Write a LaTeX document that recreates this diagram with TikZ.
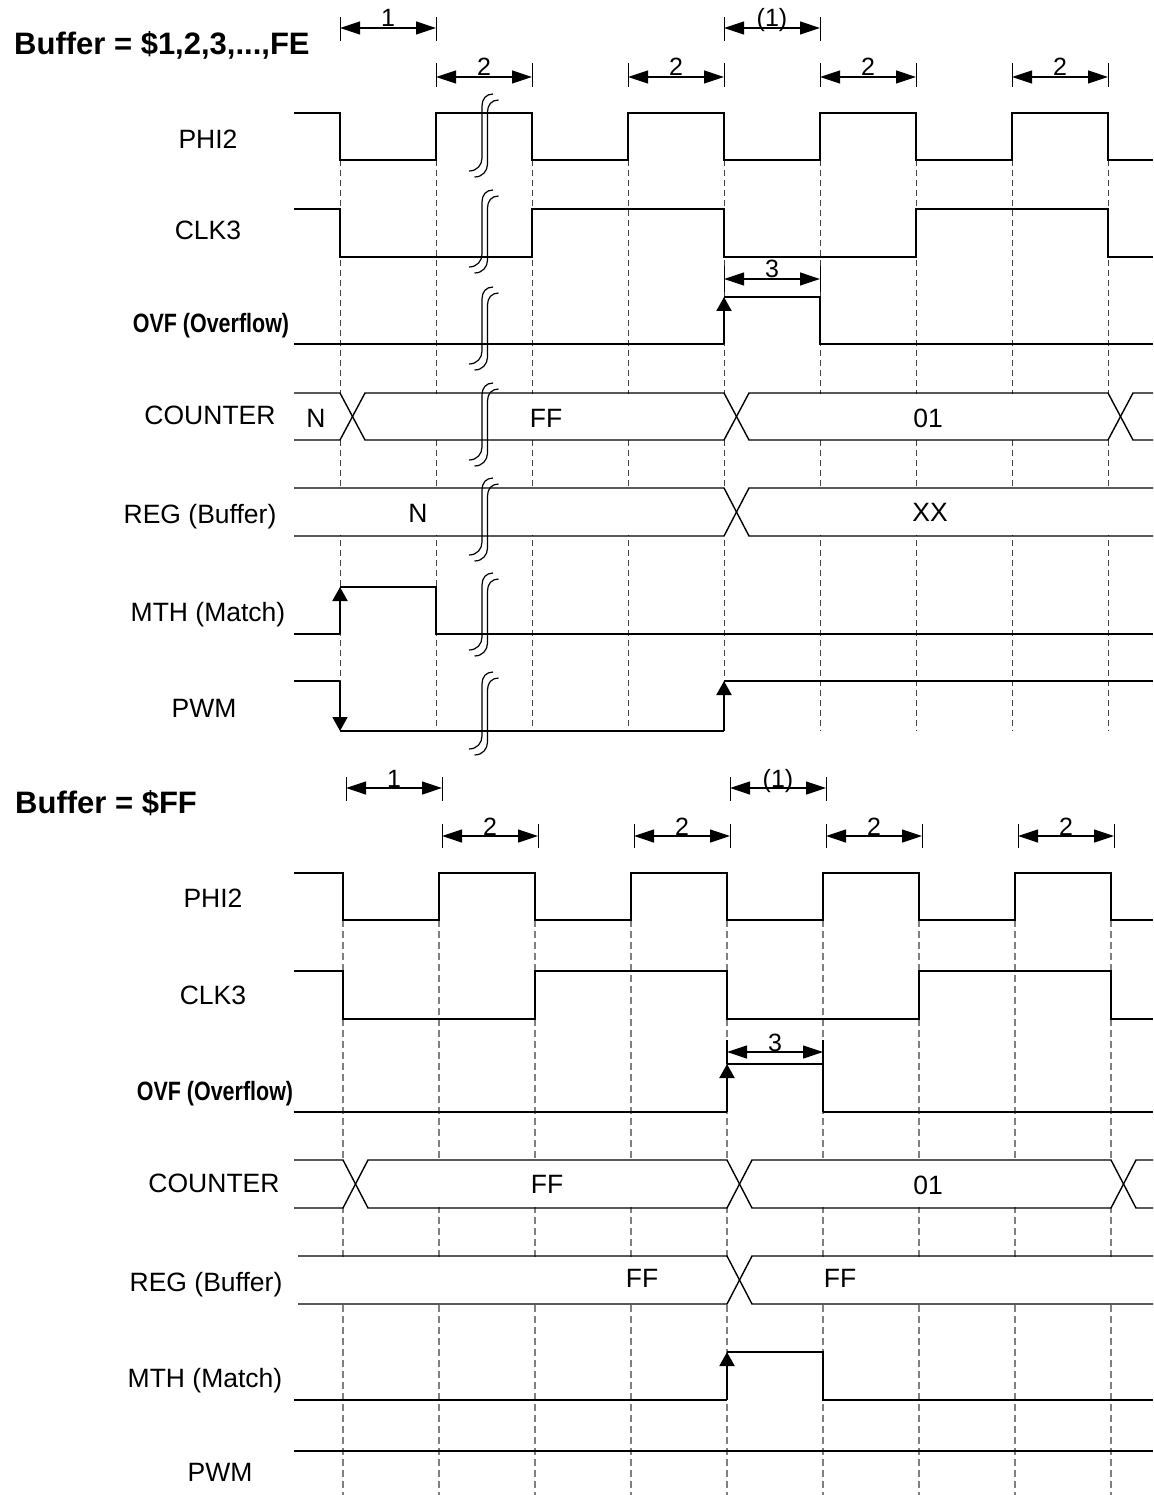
\documentclass[tikz,border=0pt]{standalone}
\usepackage{fontspec}
\setmainfont{Liberation Sans}
\newfontfamily\ovffont[FakeStretch=0.81]{Liberation Sans}
\usetikzlibrary{arrows.meta}
\begin{document}
\begin{tikzpicture}[x=1pt,y=-1pt,
  sig/.style={line width=1.4pt, line join=miter},
  edgearr/.style={line width=2pt, -{Triangle[length=14pt,width=15pt]}},
  dim/.style={line width=1.2pt, {Triangle[length=20pt,width=13pt]}-{Triangle[length=20pt,width=13pt]}},
  tickln/.style={line width=1pt},
  gridtop/.style={line width=0.9pt, black!75, dash pattern=on 6pt off 4pt},
  gridbot/.style={line width=1.2pt, black!50, dash pattern=on 7pt off 4pt},
  busbg/.style={fill=white},
  lbl/.style={font=\fontsize{26.5}{30}\selectfont, inner sep=0pt, anchor=base},
  ovflbl/.style={font=\ovffont\bfseries\fontsize{26.5}{30}\selectfont, inner sep=0pt, anchor=base},
  ttl/.style={font=\bfseries\fontsize{31}{36}\selectfont, inner sep=0pt, anchor=base west},
  num/.style={font=\fontsize{25}{28}\selectfont, inner sep=0pt, anchor=base},
  brk/.style={line width=1.2pt},
  brkmark/.pic={
    \draw[brk] (11,0) .. controls (4,0) and (0,5) .. (0,12) -- (0,64) .. controls (0,71) and (-5,77) .. (-13,77);
    \draw[brk] (16.5,6) .. controls (9.5,6) and (5.5,11) .. (5.5,18) -- (5.5,70) .. controls (5.5,77) and (0.5,83) .. (-7.5,83);
  }
]
\useasboundingbox (0,0) rectangle (1153,1495);
\fill[white] (0,0) rectangle (1153,1495);

%================ TOP ==================
% grid
\foreach \i in {0,...,8} {
  \draw[gridtop] ({340+96*\i},160) -- ({340+96*\i},731);
}
% bus backgrounds hide the grid inside the buses
\fill[busbg] (294,394) rectangle (1153,439);
\fill[busbg] (294,489) rectangle (1153,535);
% title
\node[ttl] (t1) at (14,55) {Buffer = \$1,2,3,...,FE};
% dimension arrows
\foreach \a/\b/\yy/\t in {340/436/28/17, 724/820/28/17, 436/532/77/63, 628/724/77/63, 820/916/77/63, 1012/1108/77/63} {
  \draw[tickln] (\a,\t) -- (\a,\t+24) (\b,\t) -- (\b,\t+24);
  \draw[dim] (\a,\yy) -- (\b,\yy);
}
\node[num] (n1) at (388,27) {1};
\node[num] (n2) at (772,27) {(1)};
\node[num] (n3) at (484,76) {2};
\node[num] (n4) at (676,76) {2};
\node[num] (n5) at (868,76) {2};
\node[num] (n6) at (1060,76) {2};
% labels
\node[lbl] (l1) at (208,148.5) {PHI2};
\node[lbl] (l2) at (208,239.5) {CLK3};
\node[ovflbl] (l3) at (211,332) {OVF (Overflow)};
\node[lbl] (l4) at (210,424.5) {COUNTER};
\node[lbl] (l5) at (200,523.5) {REG (Buffer)};
\node[lbl] (l6) at (208,621.5) {MTH (Match)};
\node[lbl] (l7) at (204,717.5) {PWM};
% PHI2
\draw[sig] (294,113) -- (340,113) -- (340,160) -- (436,160) -- (436,113) -- (532,113) -- (532,160) -- (628,160) -- (628,113) -- (724,113) -- (724,160) -- (820,160) -- (820,113) -- (916,113) -- (916,160) -- (1012,160) -- (1012,113) -- (1108,113) -- (1108,160) -- (1153,160);
% CLK3
\draw[sig] (294,209) -- (340,209) -- (340,257) -- (532,257) -- (532,209) -- (724,209) -- (724,257) -- (916,257) -- (916,209) -- (1108,209) -- (1108,257) -- (1153,257);
% OVF
\draw[sig] (294,344) -- (724,344);
\draw[edgearr] (724,344) -- (724,297);
\draw[sig] (724,297) -- (820,297) -- (820,344) -- (1153,344);
\draw[tickln] (724,266) -- (724,292) (820,266) -- (820,292);
\draw[dim] (724,279) -- (820,279);
\node[num] (n7) at (772,278) {3};
% COUNTER
\draw[sig] (294,393) -- (340,393) -- (365,440) -- (724,440) -- (749,393) -- (1108,393) -- (1133,440) -- (1153,440);
\draw[sig] (294,440) -- (340,440) -- (365,393) -- (724,393) -- (749,440) -- (1108,440) -- (1133,393) -- (1153,393);
\node[lbl] (c1) at (316,427.5) {N};
\node[lbl] (c2) at (546,427.5) {FF};
\node[lbl] (c3) at (928,427.5) {01};
% REG
\draw[sig] (294,488) -- (724,488) -- (749,536) -- (1153,536);
\draw[sig] (294,536) -- (724,536) -- (749,488) -- (1153,488);
\node[lbl] (r1) at (418,522) {N};
\node[lbl] (r2) at (930,521) {XX};
% MTH
\draw[sig] (294,634) -- (340,634);
\draw[edgearr] (340,634) -- (340,587);
\draw[sig] (340,587) -- (436,587) -- (436,634) -- (1153,634);
% PWM
\draw[sig] (294,681) -- (340,681);
\draw[edgearr] (340,681) -- (340,731);
\draw[sig] (340,731) -- (724,731);
\draw[edgearr] (724,731) -- (724,681);
\draw[sig] (724,681) -- (1153,681);
% break marks
\foreach \yt in {94,190,287,383,478,573,672} {
  \pic at (482,\yt) {brkmark};
}

%================ BOTTOM ==================
\foreach \i in {0,...,8} {
  \draw[gridbot] ({343+96*\i},920) -- ({343+96*\i},1495);
}
\fill[busbg] (294,1161) rectangle (1153,1207);
\fill[busbg] (298,1257) rectangle (1153,1303);
\node[ttl] (t2) at (15,813) {Buffer = \$FF};
\foreach \a/\b/\yy/\t in {346/442/788/777, 730/826/788/777, 442/538/836/824, 634/730/836/824, 826/922/836/824, 1018/1114/836/824} {
  \draw[tickln] (\a,\t) -- (\a,\t+24) (\b,\t) -- (\b,\t+24);
  \draw[dim] (\a,\yy) -- (\b,\yy);
}
\node[num] (m1) at (394,787) {1};
\node[num] (m2) at (778,787) {(1)};
\node[num] (m3) at (490,835) {2};
\node[num] (m4) at (682,835) {2};
\node[num] (m5) at (874,835) {2};
\node[num] (m6) at (1066,835) {2};
% labels
\node[lbl] (k1) at (213,907.5) {PHI2};
\node[lbl] (k2) at (213,1004.5) {CLK3};
\node[ovflbl] (k3) at (215,1100) {OVF (Overflow)};
\node[lbl] (k4) at (214,1192.5) {COUNTER};
\node[lbl] (k5) at (206,1291.5) {REG (Buffer)};
\node[lbl] (k6) at (205,1387.5) {MTH (Match)};
\node[lbl] (k7) at (220,1481.5) {PWM};
% PHI2
\draw[sig] (294,873) -- (343,873) -- (343,920) -- (439,920) -- (439,873) -- (535,873) -- (535,920) -- (631,920) -- (631,873) -- (727,873) -- (727,920) -- (823,920) -- (823,873) -- (919,873) -- (919,920) -- (1015,920) -- (1015,873) -- (1111,873) -- (1111,920) -- (1153,920);
% CLK3
\draw[sig] (294,971) -- (343,971) -- (343,1019) -- (535,1019) -- (535,971) -- (727,971) -- (727,1019) -- (919,1019) -- (919,971) -- (1111,971) -- (1111,1019) -- (1153,1019);
% OVF
\draw[sig] (294,1112) -- (727,1112);
\draw[edgearr] (727,1112) -- (727,1064);
\draw[sig] (727,1064) -- (823,1064);
\draw[line width=2pt] (823,1064) -- (823,1112);
\draw[sig] (823,1112) -- (1153,1112);
\draw[line width=2pt] (727,1040) -- (727,1064) (823,1040) -- (823,1064);
\draw[dim] (727,1052) -- (823,1052);
\node[num] (m7) at (775,1051) {3};
% COUNTER
\draw[sig] (294,1160) -- (343,1160) -- (368,1208) -- (727,1208) -- (752,1160) -- (1111,1160) -- (1136,1208) -- (1153,1208);
\draw[sig] (294,1208) -- (343,1208) -- (368,1160) -- (727,1160) -- (752,1208) -- (1111,1208) -- (1136,1160) -- (1153,1160);
\node[lbl] (e1) at (547,1193.5) {FF};
\node[lbl] (e2) at (928,1194) {01};
% REG
\draw[sig] (298,1256) -- (727,1256) -- (752,1304) -- (1153,1304);
\draw[sig] (298,1304) -- (727,1304) -- (752,1256) -- (1153,1256);
\node[lbl] (g1) at (642,1287.5) {FF};
\node[lbl] (g2) at (840,1287.5) {FF};
% MTH
\draw[sig] (294,1400) -- (727,1400);
\draw[edgearr] (727,1400) -- (727,1352);
\draw[sig] (727,1352) -- (823,1352) -- (823,1400) -- (1153,1400);
% PWM
\draw[sig] (294,1451) -- (1153,1451);
\end{tikzpicture}
\end{document}
